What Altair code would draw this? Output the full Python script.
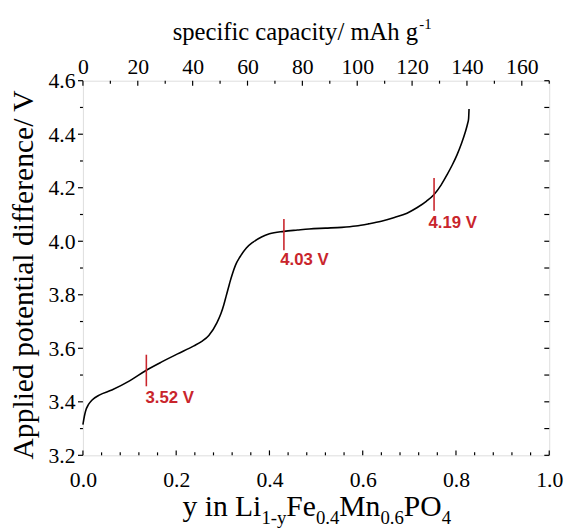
import altair as alt
import pandas as pd

# ---- data ----
y_frac = [0.000, 0.003, 0.0056, 0.012, 0.0197, 0.035, 0.062, 0.10, 0.136, 0.17, 0.203, 0.238,
          0.255, 0.270, 0.2875, 0.296, 0.302, 0.307, 0.312, 0.316, 0.320, 0.327,
          0.337, 0.350, 0.365, 0.383, 0.400, 0.431, 0.460, 0.485, 0.520, 0.555, 0.585, 0.612,
          0.640, 0.668, 0.695, 0.717, 0.737, 0.753, 0.768, 0.781, 0.792, 0.802, 0.812, 0.820,
          0.825, 0.827, 0.828]
volt = [3.315, 3.345, 3.365, 3.390, 3.407, 3.425, 3.444, 3.478, 3.518, 3.550, 3.579, 3.609,
        3.626, 3.648, 3.696, 3.730, 3.762, 3.794, 3.826, 3.852, 3.875, 3.910,
        3.942, 3.974, 3.997, 4.016, 4.028, 4.037, 4.042, 4.046, 4.049, 4.052, 4.057, 4.065,
        4.075, 4.089, 4.105, 4.126, 4.150, 4.175, 4.210, 4.249, 4.285, 4.322, 4.366, 4.408,
        4.440, 4.457, 4.494]

marker_x = [0.136, 0.431, 0.753]
marker_lo = [3.458, 3.966, 4.114]
marker_hi = [3.576, 4.083, 4.236]
marker_text = ["3.52 V", "4.03 V", "4.19 V"]
label_x = [0.134, 0.423, 0.741]
label_v = [3.414, 3.929, 4.069]

x_major = [0.0, 0.2, 0.4, 0.6, 0.8, 1.0]
x_minor = [0.04, 0.08, 0.12, 0.16, 0.24, 0.28, 0.32, 0.36, 0.44, 0.48, 0.52, 0.56,
           0.64, 0.68, 0.72, 0.76, 0.84, 0.88, 0.92, 0.96]
v_major = [3.2, 3.4, 3.6, 3.8, 4.0, 4.2, 4.4, 4.6]
v_minor = [3.3, 3.5, 3.7, 3.9, 4.1, 4.3, 4.5]
cap_major = [0, 20, 40, 60, 80, 100, 120, 140, 160]
cap_minor = [10, 30, 50, 70, 90, 110, 130, 150, 170]

W, H = 473, 380
SERIF = "'Liberation Serif', 'Times New Roman', serif"
RED = "#c9252c"

curve = pd.DataFrame({"y": y_frac, "V": volt})
marks = pd.DataFrame({"x": marker_x, "lo": marker_lo, "hi": marker_hi})
labels = pd.DataFrame({"x": label_x, "v": label_v, "t": marker_text})

xs = alt.Scale(domain=[0, 1], nice=False, zero=False)
vs = alt.Scale(domain=[3.2, 4.6], nice=False, zero=False)
cs = alt.Scale(domain=[0, 170], nice=False, zero=False)

common_axis = dict(ticks=False, tickSize=0, domain=False, grid=False, labelFont=SERIF,
                   labelFontSize=22, labelColor="black", labelFlush=False, title=None)

line = alt.Chart(curve).mark_line(color="black", strokeWidth=1.6, interpolate="monotone").encode(
    x=alt.X("y:Q", scale=xs, axis=alt.Axis(orient="bottom", values=x_major, format=".1f",
                                          labelPadding=15, **common_axis)),
    y=alt.Y("V:Q", scale=vs, axis=alt.Axis(orient="left", values=v_major, format=".1f",
                                          labelPadding=8, **common_axis)),
)

def xticks(vals, length):
    return alt.Chart(pd.DataFrame({"t": vals})).mark_rule(color="black", strokeWidth=1.2).encode(
        x=alt.X("t:Q", scale=xs, axis=None), y=alt.value(H), y2=alt.value(H - length))

def vticks_left(vals, length):
    return alt.Chart(pd.DataFrame({"t": vals})).mark_rule(color="black", strokeWidth=1.2).encode(
        y=alt.Y("t:Q", scale=vs, axis=None), x=alt.value(0), x2=alt.value(-length))

def vticks_right(vals, length):
    return alt.Chart(pd.DataFrame({"t": vals})).mark_rule(color="black", strokeWidth=1.2).encode(
        y=alt.Y("t:Q", scale=vs, axis=None), x=alt.value(W), x2=alt.value(W - length))

top_major = alt.Chart(pd.DataFrame({"c": cap_major})).mark_rule(color="black", strokeWidth=1.2).encode(
    x=alt.X("c:Q", scale=cs, axis=alt.Axis(orient="top", values=cap_major, labelPadding=2,
                                          **common_axis)),
    y=alt.value(0), y2=alt.value(5))
top_minor = alt.Chart(pd.DataFrame({"c": cap_minor})).mark_rule(color="black", strokeWidth=1.2).encode(
    x=alt.X("c:Q", scale=cs, axis=None), y=alt.value(0), y2=alt.value(3))

red_ticks = alt.Chart(marks).mark_rule(color=RED, strokeWidth=1.6).encode(
    x=alt.X("x:Q", scale=xs, axis=None),
    y=alt.Y("lo:Q", scale=vs, axis=None), y2="hi:Q")
red_text = alt.Chart(labels).mark_text(color=RED, font="Liberation Sans", fontWeight="bold",
                                       fontSize=17, align="left", baseline="middle").encode(
    x=alt.X("x:Q", scale=xs, axis=None), y=alt.Y("v:Q", scale=vs, axis=None), text="t:N")

# ---- titles composed from text pieces (Times-like advance widths) ----
ADV = {"y": 500, " ": 250, "i": 278, "n": 500, "L": 611, "1": 500, "-": 333, "F": 556, "e": 444,
       "0": 500, ".": 250, "4": 500, "6": 500, "M": 889, "P": 556, "O": 722, "s": 389, "p": 500,
       "f": 333, "c": 444, "a": 444, "t": 278, "/": 278, "m": 778, "A": 722, "h": 500, "g": 500}

def width(s, size):
    return sum(ADV.get(ch, 500) for ch in s) / 1000 * size

one = pd.DataFrame({"k": [0]})

def piece(text, x, y, size, angle=0, align="left", baseline="alphabetic"):
    return alt.Chart(one).mark_text(text=text, font=SERIF, fontSize=size, color="black",
                                    align=align, baseline=baseline, angle=angle).encode(
        x=alt.value(x), y=alt.value(y))

pieces = []
segs = [("y in Li", False), ("1-y", True), ("Fe", False), ("0.4", True), ("Mn", False),
        ("0.6", True), ("PO", False), ("4", True)]
MAIN, SUB = 30, 19
cx = 101
for s, sub in segs:
    size = SUB if sub else MAIN
    pieces.append(piece(s, cx, 450 if sub else 442, size))
    cx += width(s, size)

tt = "specific capacity/ mAh g"
pieces.append(piece(tt, 91, -41, 25))
pieces.append(piece("-1", 91 + width(tt, 25) + 1, -52, 15))

pieces.append(piece("Applied potential difference/ V", -60, 197, 30, angle=270,
                    align="center", baseline="middle"))

layers = [line, xticks(x_major, 5), xticks(x_minor, 3), vticks_left(v_major, 5),
          vticks_left(v_minor, 3), vticks_right(v_major, 5), vticks_right(v_minor, 5),
          top_major, top_minor, red_ticks, red_text] + pieces

chart = alt.layer(*layers).resolve_scale(x="independent", y="independent").properties(
    width=W, height=H,
    autosize=alt.AutoSizeParams(type="none"),
    padding={"left": 76, "top": 70, "right": 17, "bottom": 72},
).configure_view(stroke="black", strokeWidth=1.5).configure_axis(
    labelFont=SERIF).configure_text(font=SERIF).configure(background="white")

chart.save("out.html", embed_options={"renderer": "svg", "actions": False})
